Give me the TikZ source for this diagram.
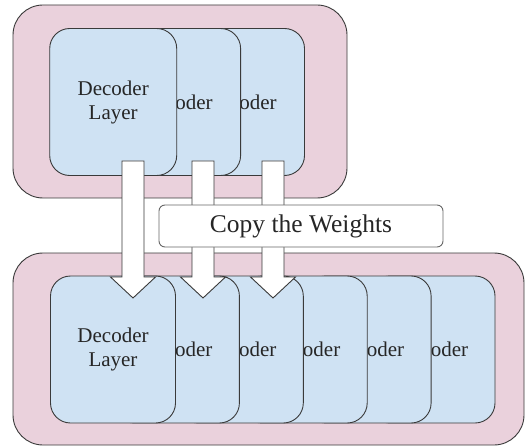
\documentclass[tikz,border=0pt]{standalone}
\usepackage{fontspec}
\setmainfont{Liberation Serif}
\usetikzlibrary{positioning,calc}

\definecolor{framepink}{HTML}{EAD1DC}
\definecolor{cardblue}{HTML}{CFE2F3}
\definecolor{edgegray}{HTML}{3A3A3A}

\tikzset{
	frame/.style={draw=edgegray, fill=framepink, line width=0.9pt, rounded corners=30pt},
	card/.style={draw=edgegray, fill=cardblue, line width=0.9pt, rounded corners=20pt,
		minimum height=147pt, inner sep=0pt, align=center, text=black!85,
		font=\fontsize{21}{24}\selectfont},
	arrowbody/.style={draw=edgegray, fill=white, line width=0.9pt},
	copybox/.style={draw=black!60, fill=white, line width=0.9pt, rounded corners=6pt,
		minimum width=284pt, minimum height=42pt, text=black!85,
		font=\fontsize{25.5}{30}\selectfont},
}

% block arrow from #1 down to #2
\newcommand{\blockarrow}[2]{%
	\draw[arrowbody] ($(#1)+(-11,0)$) -- ($(#1)+(11,0)$) -- ($(#2)+(11,-21)$)
		-- ($(#2)+(22.5,-21)$) -- (#2) -- ($(#2)+(-22.5,-21)$) -- ($(#2)+(-11,-21)$) -- cycle;}

\begin{document}
\begin{tikzpicture}[x=1pt,y=-1pt]
	\useasboundingbox (0,0) rectangle (529,446);
	
	% frames
	\draw[frame] (13,5) rectangle (347,198);
	\draw[frame] (13,253) rectangle (524,445);
	
	% top stack
	\node[card, minimum width=127pt] (t3) at (241,102) {Decoder};
	\node[card, minimum width=127pt, left=-64pt of t3] (t2) {Decoder};
	\node[card, minimum width=127pt, left=-64pt of t2] (t1) {Decoder\\Layer};
	
	% bottom stack
	\node[card, minimum width=125pt] (b6) at (432.5,349.5) {Decoder};
	\node[card, minimum width=125pt, left=-62pt of b6] (b5) {Decoder};
	\node[card, minimum width=125pt, left=-62pt of b5] (b4) {Decoder};
	\node[card, minimum width=125pt, left=-62pt of b4] (b3) {Decoder};
	\node[card, minimum width=125pt, left=-62pt of b3] (b2) {Decoder};
	\node[card, minimum width=125pt, left=-62pt of b2] (b1) {Decoder\\Layer};
	
	% copy arrows
	\coordinate (s1) at (133,161);
	\coordinate (e1) at (133,298);
	\coordinate (s2) at (203,161);
	\coordinate (e2) at (203,298);
	\coordinate (s3) at (273,161);
	\coordinate (e3) at (273,298);
	\blockarrow{s1}{e1}
	\blockarrow{s2}{e2}
	\blockarrow{s3}{e3}
	
	\node[copybox] (copy) at (301,226) {Copy the Weights};
\end{tikzpicture}
\end{document}
